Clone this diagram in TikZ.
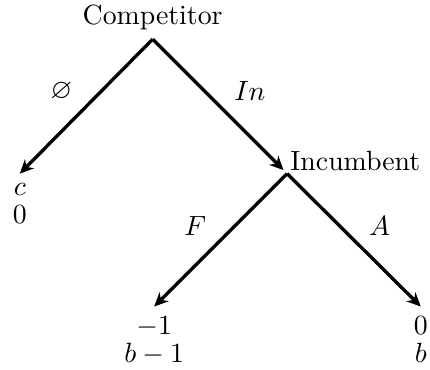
\documentclass[tikz,border=0pt]{standalone}
\usepackage{amsmath}
\usepackage{amssymb}
\usepackage{tikz}
\usetikzlibrary{arrows.meta, positioning}
\tikzset{
  player/.style={font=\normalsize, inner sep=3.33pt},
  payoff/.style={align=center, font=\fontsize{10}{10}\selectfont,
    anchor=north, inner sep=3.33pt},
  lbl/.style={inner sep=0pt},
  move/.style={-{Stealth[length=5pt, width=4.6pt, inset=1.6pt]}, very thick, color=black}
}
\begin{document}
\begin{tikzpicture}
  \useasboundingbox (0,0) rectangle (5.437,4.666);
  % Decision points
  \coordinate (c0) at (1.93,4.17);
  \coordinate (i0) at (3.63,2.47);
  \node[player, above=0pt of c0] (comp) {Competitor};
  \node[player, anchor=south west, inner sep=1pt] (inc) at (i0) {Incumbent};
  % Leaves
  \coordinate (cl) at (0.25,2.47);
  \coordinate (fl) at (1.95,0.79);
  \coordinate (al) at (5.32,0.79);
  \node[payoff] (out) at (cl) {$c$\\$0$};
  \node[payoff] (fight) at (fl) {$-1$\\$b-1$};
  \node[payoff] (acc) at (al) {$0$\\$b$};

  \draw[move] (c0) -- node[lbl, anchor=south east, xshift=-4.4pt, yshift=1.6pt] {$\varnothing$} (cl);
  \draw[move, shorten >=1.8pt] (c0) -- node[lbl, anchor=south west, xshift=4.6pt, yshift=1.4pt] {$In$} (i0);
  \draw[move] (i0) -- node[lbl, anchor=south east, xshift=-4.6pt, yshift=1.2pt] {$F$} (fl);
  \draw[move] (i0) -- node[lbl, anchor=south west, xshift=4.9pt, yshift=1.2pt] {$A$} (al);
\end{tikzpicture}
\end{document}
